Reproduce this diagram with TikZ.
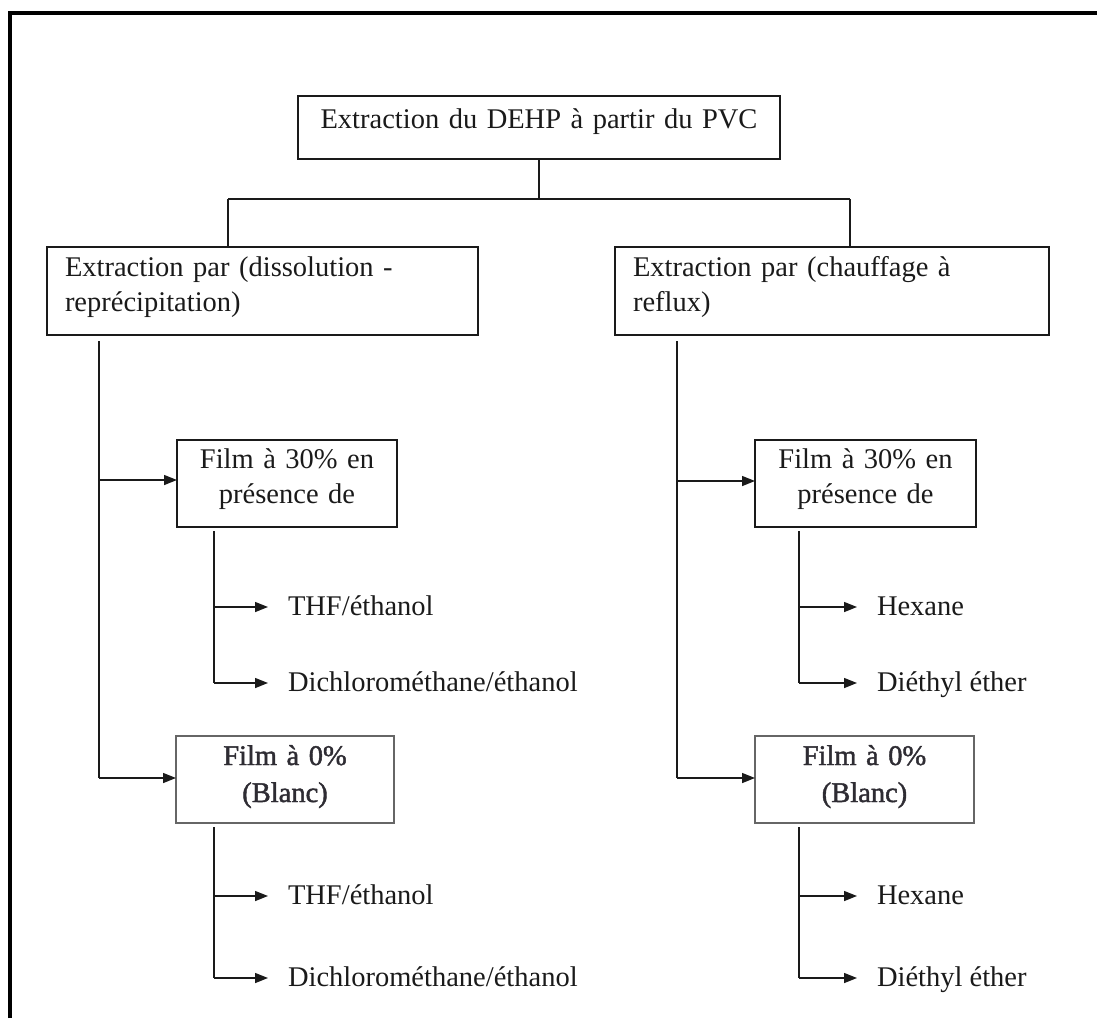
\documentclass[tikz,border=0pt]{standalone}
\usepackage{fontspec}
\setmainfont{Liberation Serif}
\newfontfamily\heavyserif[FakeBold=1.5]{Liberation Serif}
\usetikzlibrary{arrows.meta}
\definecolor{ink}{HTML}{1A1A1A}
\definecolor{greyline}{HTML}{666666}
\definecolor{blancink}{HTML}{2E2C33}
\newcommand\bodysize{\fontsize{14.25pt}{17.5pt}\selectfont}
\newcommand\blancsize{\fontsize{14.25pt}{18.5pt}\selectfont}

\begin{document}
\begin{tikzpicture}[x=0.5pt,y=-0.5pt,
  line width=0.7pt, ink,
  box/.style={draw=ink, line width=0.7pt, inner sep=0pt, outer sep=0pt,
    anchor=north west, font=\bodysize, text=ink},
  methodbox/.style={box, align=left, inner xsep=9pt, text height=14.5pt, text depth=29.5pt},
  filmbox/.style={box, align=center, text height=14pt, text depth=29.5pt},
  blancbox/.style={box, draw=greyline, line width=1pt, align=center,
    font=\blancsize\heavyserif, text=blancink, text height=14.5pt, text depth=29pt},
  leaf/.style={anchor=base west, inner sep=0pt, outer sep=0pt, font=\bodysize, text=ink},
  arr/.style={-{Triangle[length=6.5pt,width=5pt]}},
  leafarr/.style={arr, shorten >=10pt},
]
\useasboundingbox (0,0) rectangle (1097,1018);

% frame (left and top edges)
\draw[line width=2pt, black] (10.3,1018) -- (10.3,13) -- (1097,13);

% boxes
\node[box, align=center, text width=241pt, text height=16pt, text depth=15.5pt]
  (top) at (298,96) {Extraction du DEHP à partir du PVC};
\node[methodbox, text width=197.5pt] (lbox) at (47,247)
  {Extraction par (dissolution -\\reprécipitation)};
\node[methodbox, text width=199pt] (rbox) at (615,247)
  {Extraction par (chauffage à\\reflux)};

\node[filmbox, text width=110pt] (f30l) at (177,440) {Film à 30\% en\\présence de};
\node[filmbox, text width=110.5pt] (f30r) at (755,440) {Film à 30\% en\\présence de};
\node[blancbox, text width=109pt] (f0l) at (176,736) {Film à 0\%\\(Blanc)};
\node[blancbox, text width=109.5pt] (f0r) at (755,736) {Film à 0\%\\(Blanc)};

% solvents
\node[leaf] (l1a) at (288,615) {THF/éthanol};
\node[leaf] (l1b) at (288,691) {Dichlorométhane/éthanol};
\node[leaf] (l2a) at (288,904) {THF/éthanol};
\node[leaf] (l2b) at (288,986) {Dichlorométhane/éthanol};
\node[leaf] (r1a) at (877,615) {Hexane};
\node[leaf] (r1b) at (877,691) {Diéthyl éther};
\node[leaf] (r2a) at (877,904) {Hexane};
\node[leaf] (r2b) at (877,986) {Diéthyl éther};

% split below the title box
\coordinate (jl) at (228,199);
\coordinate (jr) at (850,199);
\draw (top.south) -- (top.south |- jl);
\draw (jl) -- (jr);
\draw (jl) -- (jl |- lbox.north);
\draw (jr) -- (jr |- rbox.north);

% main trunks
\coordinate (tl0) at (99,341);
\coordinate (tl1) at (99,480);
\coordinate (tl2) at (99,778);
\draw (tl0) -- (tl2);
\draw[arr] (tl1) -- (tl1 -| f30l.west);
\draw[arr] (tl2) -- (tl2 -| f0l.west);

\coordinate (tr0) at (677,341);
\coordinate (tr1) at (677,481);
\coordinate (tr2) at (677,778);
\draw (tr0) -- (tr2);
\draw[arr] (tr1) -- (tr1 -| f30r.west);
\draw[arr] (tr2) -- (tr2 -| f0r.west);

% branches to the solvents
\coordinate (sl1) at (214,531);
\coordinate (sl1a) at (214,607);
\coordinate (sl1b) at (214,683);
\draw (sl1) -- (sl1b);
\draw[leafarr] (sl1a) -- (sl1a -| l1a.west);
\draw[leafarr] (sl1b) -- (sl1b -| l1b.west);

\coordinate (sl2) at (214,827);
\coordinate (sl2a) at (214,896);
\coordinate (sl2b) at (214,978);
\draw (sl2) -- (sl2b);
\draw[leafarr] (sl2a) -- (sl2a -| l2a.west);
\draw[leafarr] (sl2b) -- (sl2b -| l2b.west);

\coordinate (sr1) at (799,531);
\coordinate (sr1a) at (799,607);
\coordinate (sr1b) at (799,683);
\draw (sr1) -- (sr1b);
\draw[leafarr] (sr1a) -- (sr1a -| r1a.west);
\draw[leafarr] (sr1b) -- (sr1b -| r1b.west);

\coordinate (sr2) at (799,827);
\coordinate (sr2a) at (799,896);
\coordinate (sr2b) at (799,978);
\draw (sr2) -- (sr2b);
\draw[leafarr] (sr2a) -- (sr2a -| r2a.west);
\draw[leafarr] (sr2b) -- (sr2b -| r2b.west);
\end{tikzpicture}
\end{document}
